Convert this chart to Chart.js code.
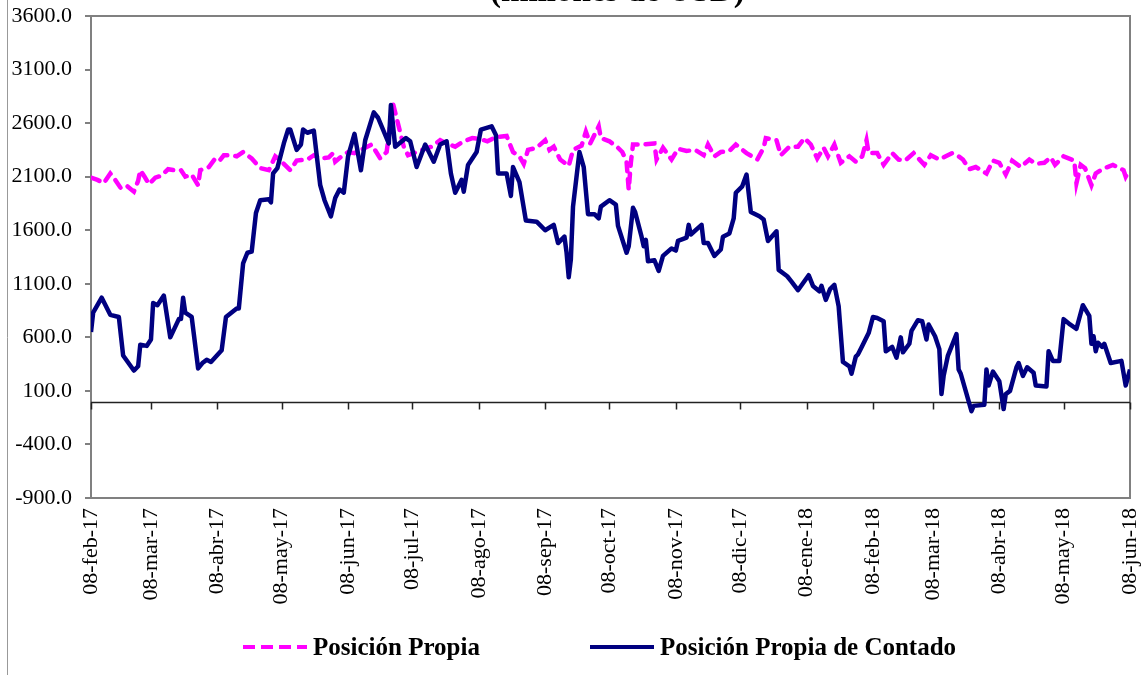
<!DOCTYPE html>
<html lang="es">
<head>
<meta charset="utf-8">
<title>Posición Propia</title>
<script src="https://cdn.jsdelivr.net/npm/chart.js@4.4.1/dist/chart.umd.min.js"></script>
<style>
    html, body { margin: 0; padding: 0; background: #fff; }
    #wrap { position: relative; width: 1146px; height: 675px; overflow: hidden; font-family: 'Liberation Serif', 'Times New Roman', serif; }
    #grafico { position: absolute; left: 0; top: 0; }
    .titulo { position: absolute; left: 490px; top: -26px; font-size: 33px; line-height: 33px; font-weight: bold; white-space: nowrap; }
    .leyenda { position: absolute; top: 633px; font-size: 25px; line-height: 28px; font-weight: bold; white-space: nowrap; color: #000; }
    .muestra { position: absolute; top: 645px; width: 64px; height: 4px; }
    .muestra.propia { left: 243px; background: repeating-linear-gradient(to right, #ff00ff 0 12px, transparent 12px 18px); }
    .muestra.contado { left: 590px; background: #000080; }
</style>
</head>
<body>
<div id="wrap">
    <canvas id="grafico" width="1146" height="675"></canvas>
    <div class="titulo">(millones de USD)</div>
    <div class="muestra propia"></div>
    <div class="leyenda" style="left: 313px;">Posición Propia</div>
    <div class="muestra contado"></div>
    <div class="leyenda" style="left: 660px;">Posición Propia de Contado</div>
</div>
<script>
// Eje de fechas: días desde el 08-feb-17
const mesesDias = [0, 28, 59, 89, 120, 150, 181, 212, 242, 273, 303, 334, 365, 393, 424, 454, 485];
const mesesEtiquetas = ['08-feb-17', '08-mar-17', '08-abr-17', '08-may-17', '08-jun-17', '08-jul-17',
    '08-ago-17', '08-sep-17', '08-oct-17', '08-nov-17', '08-dic-17', '08-ene-18', '08-feb-18',
    '08-mar-18', '08-abr-18', '08-may-18', '08-jun-18'];

// Posición Propia (millones de USD)
const diasPropia = [0, 3, 6, 9, 11, 14, 17, 20, 22, 23, 25, 27, 30, 33, 36, 39, 42, 44, 47, 50,
    51, 55, 58, 60, 62, 65, 68, 71, 75, 79, 83, 86, 89, 93, 96, 101, 104, 107, 111, 113,
    114, 117, 120, 123, 128, 131, 135, 138, 141, 144, 146, 148, 152, 156, 159, 163, 166, 170, 174, 178,
    182, 185, 189, 194, 197, 200, 202, 204, 208, 212, 214, 216, 219, 223, 225, 229, 231, 233, 237, 238,
    242, 246, 248, 250, 251, 252, 253, 258, 263, 264, 267, 271, 274, 278, 282, 286, 288, 291, 294, 298,
    301, 306, 311, 314, 315, 320, 322, 326, 330, 333, 336, 339, 342, 344, 347, 350, 354, 357, 360, 362,
    363, 367, 370, 374, 377, 380, 384, 389, 392, 396, 399, 402, 405, 407, 410, 413, 418, 421, 424, 427,
    430, 434, 438, 441, 445, 448, 450, 454, 459, 460, 462, 464, 467, 469, 472, 477, 482, 483, 485];
const propia = [2090, 2070, 2040, 2130, 2080, 1990, 2010, 1960, 2060, 2160, 2100, 2030, 2090, 2110, 2170, 2160, 2160, 2100, 2120, 2020,
    2160, 2190, 2270, 2250, 2300, 2300, 2290, 2330, 2270, 2180, 2160, 2290, 2240, 2160, 2250, 2260, 2300, 2270, 2280, 2320,
    2240, 2290, 2330, 2320, 2370, 2400, 2270, 2330, 2780, 2540, 2380, 2300, 2330, 2360, 2380, 2440, 2410, 2380, 2430, 2460,
    2450, 2430, 2470, 2480, 2330, 2290, 2220, 2350, 2370, 2440, 2350, 2380, 2260, 2200, 2350, 2390, 2520, 2410, 2570, 2460,
    2430, 2370, 2330, 2240, 1980, 2230, 2400, 2400, 2410, 2260, 2370, 2260, 2360, 2340, 2350, 2300, 2400, 2290, 2330, 2340,
    2400, 2320, 2260, 2370, 2460, 2440, 2300, 2380, 2380, 2460, 2400, 2270, 2370, 2290, 2400, 2230, 2290, 2240, 2290, 2440,
    2320, 2320, 2210, 2320, 2260, 2250, 2320, 2210, 2300, 2260, 2290, 2320, 2290, 2260, 2170, 2190, 2130, 2250, 2230, 2120,
    2250, 2190, 2260, 2220, 2230, 2280, 2210, 2290, 2250, 2040, 2210, 2180, 2020, 2130, 2170, 2210, 2160, 2100, 2170];

// Posición Propia de Contado (millones de USD)
const diasContado = [0, 1, 5, 9, 13, 15, 20, 22, 23, 26, 28, 29, 31, 34, 37, 41, 42, 43, 44, 47,
    50, 52, 54, 56, 61, 63, 68, 69, 71, 73, 75, 77, 79, 83, 84, 85, 87, 90, 92, 93,
    96, 98, 99, 101, 104, 107, 109, 112, 114, 116, 118, 120, 123, 126, 128, 132, 134, 139, 140, 142,
    147, 149, 152, 156, 160, 163, 166, 168, 170, 173, 174, 176, 180, 182, 187, 189, 190, 194, 196, 197,
    200, 203, 208, 210, 212, 216, 218, 221, 222, 223, 224, 225, 228, 230, 232, 235, 237, 238, 242, 245,
    246, 250, 251, 253, 254, 257, 258, 259, 260, 263, 265, 267, 271, 273, 274, 278, 279, 280, 285, 286,
    288, 291, 294, 295, 298, 300, 301, 304, 306, 308, 312, 314, 316, 320, 321, 325, 327, 330, 335, 337,
    340, 341, 343, 345, 347, 349, 351, 354, 355, 357, 358, 360, 363, 365, 367, 370, 371, 374, 376, 378,
    379, 382, 383, 386, 388, 390, 391, 394, 396, 397, 398, 400, 404, 405, 406, 411, 412, 417, 418, 419,
    421, 424, 426, 427, 429, 432, 433, 435, 437, 440, 441, 446, 447, 449, 452, 454, 457, 460, 463, 466,
    467, 468, 469, 470, 472, 473, 476, 481, 483, 485];
const contado = [650, 830, 970, 810, 790, 430, 290, 330, 530, 520, 580, 920, 900, 990, 600, 770, 770, 970, 830, 790,
    310, 360, 390, 370, 480, 790, 870, 870, 1290, 1390, 1400, 1760, 1880, 1890, 1860, 2130, 2180, 2410, 2540, 2540,
    2350, 2400, 2540, 2510, 2530, 2020, 1880, 1730, 1900, 1980, 1950, 2290, 2500, 2160, 2440, 2700, 2650, 2410, 2770, 2380,
    2460, 2430, 2190, 2400, 2240, 2400, 2430, 2130, 1950, 2070, 1960, 2210, 2330, 2540, 2570, 2490, 2130, 2130, 1920, 2190,
    2050, 1690, 1680, 1640, 1600, 1650, 1480, 1540, 1390, 1160, 1330, 1820, 2330, 2190, 1750, 1750, 1710, 1820, 1880, 1840,
    1640, 1390, 1450, 1810, 1770, 1540, 1450, 1510, 1310, 1320, 1220, 1360, 1430, 1410, 1500, 1530, 1650, 1560, 1650, 1480,
    1480, 1360, 1420, 1540, 1570, 1710, 1950, 2010, 2120, 1770, 1730, 1700, 1500, 1590, 1230, 1170, 1120, 1040, 1180, 1080,
    1030, 1080, 950, 1050, 1090, 890, 370, 330, 260, 420, 440, 520, 640, 790, 780, 750, 470, 510, 410, 600,
    460, 540, 660, 760, 750, 580, 720, 610, 490, 70, 240, 430, 630, 300, 260, -90, -40, -30, 300, 150,
    280, 190, -70, 70, 100, 320, 360, 240, 320, 270, 150, 140, 470, 380, 380, 770, 720, 680, 900, 800,
    540, 610, 470, 550, 510, 540, 360, 380, 150, 300];

// Dibuja el marco del área, el eje en cero con sus marcas y el borde exterior
const marcoYEje = {
    id: 'marcoYEje',
    beforeDatasetsDraw(chart) {
        const { ctx, chartArea: a, scales: { x, y } } = chart;
        ctx.save();
        ctx.strokeStyle = '#808080';
        ctx.lineWidth = 2;
        ctx.strokeRect(a.left, a.top, a.right - a.left, a.bottom - a.top);

        const y0 = Math.round(y.getPixelForValue(0)) + 0.5;
        ctx.strokeStyle = '#222';
        ctx.lineWidth = 1.5;
        ctx.beginPath();
        ctx.moveTo(a.left, y0);
        ctx.lineTo(a.right, y0);
        mesesDias.forEach(d => {
            const px = Math.round(x.getPixelForValue(d)) + 0.5;
            ctx.moveTo(px, y0);
            ctx.lineTo(px, y0 + 7);
        });
        ctx.stroke();

        ctx.strokeStyle = '#999';
        ctx.lineWidth = 1;
        ctx.beginPath();
        ctx.moveTo(7.5, 0);
        ctx.lineTo(7.5, chart.height);
        ctx.stroke();
        ctx.restore();
    }
};

const fuenteEjes = { family: "'Liberation Serif', 'Times New Roman', serif", size: 22 };

new Chart(document.getElementById('grafico'), {
    type: 'line',
    data: {
        datasets: [
            {
                label: 'Posición Propia de Contado',
                data: diasContado.map((d, i) => ({ x: d, y: contado[i] })),
                borderColor: '#000080',
                borderWidth: 4.5,
                borderJoinStyle: 'round',
                pointRadius: 0,
                tension: 0,
                order: 0
            },
            {
                label: 'Posición Propia',
                data: diasPropia.map((d, i) => ({ x: d, y: propia[i] })),
                borderColor: '#ff00ff',
                borderWidth: 4.5,
                borderDash: [9, 8],
                borderCapStyle: 'round',
                pointRadius: 0,
                tension: 0,
                order: 1
            }
        ]
    },
    options: {
        responsive: false,
        animation: false,
        layout: { padding: { top: 16, right: 16, left: 0, bottom: 0 } },
        plugins: {
            legend: { display: false },
            tooltip: { enabled: false }
        },
        scales: {
            x: {
                type: 'linear',
                min: 0,
                max: 485,
                afterFit: s => { s.height = 177; s.paddingLeft = 0; s.paddingRight = 0; },
                afterBuildTicks: s => { s.ticks = mesesDias.map(v => ({ value: v })); },
                grid: { display: false, drawTicks: false, tickLength: 0 },
                border: { display: false },
                ticks: {
                    autoSkip: false,
                    minRotation: 90,
                    maxRotation: 90,
                    padding: 10,
                    color: '#000',
                    font: fuenteEjes,
                    callback: v => mesesEtiquetas[mesesDias.indexOf(v)]
                }
            },
            y: {
                min: -900,
                max: 3600,
                afterFit: s => { s.width = 91; s.paddingTop = 0; s.paddingBottom = 0; },
                grid: { drawOnChartArea: false, drawTicks: true, tickLength: 6, color: '#808080', lineWidth: 2 },
                border: { display: true, color: '#808080', width: 2 },
                ticks: {
                    stepSize: 500,
                    padding: 13,
                    color: '#000',
                    font: fuenteEjes,
                    callback: v => v.toFixed(1)
                }
            }
        }
    },
    plugins: [marcoYEje]
});
</script>
</body>
</html>
